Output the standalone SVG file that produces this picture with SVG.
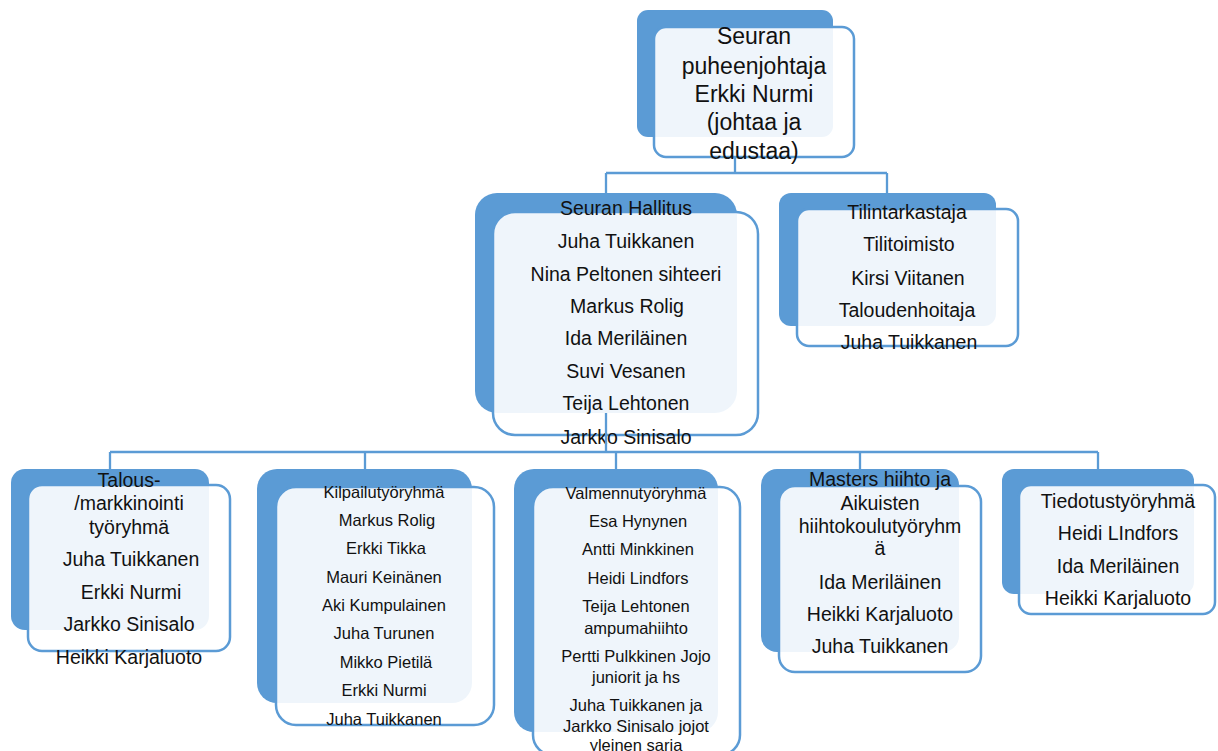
<svg xmlns="http://www.w3.org/2000/svg" width="1218" height="751" viewBox="0 0 1218 751">
<style>
.bk{fill:#5B9BD5;}
.fr{fill:#ffffff;fill-opacity:0.9;stroke:#5B9BD5;stroke-width:2.5;}
.cn{fill:none;stroke:#5B9BD5;stroke-width:2.3;}
text{font-family:"Liberation Sans",Arial,sans-serif;fill:#111;text-anchor:middle;}
.t23{font-size:23px;}
.t19{font-size:19.5px;}
.t16{font-size:16.5px;}
</style>
<rect width="1218" height="751" fill="#ffffff"/>
<g id="n-puheenjohtaja">
<rect class="bk" x="637" y="10" width="196" height="127" rx="11"/>
<rect class="fr" x="654" y="27" width="200" height="130" rx="12"/>
<text class="t23" x="754" y="44">Seuran</text>
<text class="t23" x="754" y="74">puheenjohtaja</text>
<text class="t23" x="754" y="102">Erkki Nurmi</text>
<text class="t23" x="754" y="130">(johtaa ja</text>
<text class="t23" x="754" y="159">edustaa)</text>
</g>
<g id="n-hallitus">
<rect class="bk" x="475" y="193" width="262" height="220" rx="22"/>
<rect class="fr" x="493" y="212" width="265" height="223" rx="22"/>
<text class="t19" x="626" y="215">Seuran Hallitus</text>
<text class="t19" x="626" y="248">Juha Tuikkanen</text>
<text class="t19" x="626" y="281">Nina Peltonen sihteeri</text>
<text class="t19" x="627" y="313">Markus Rolig</text>
<text class="t19" x="626" y="345">Ida Meriläinen</text>
<text class="t19" x="626" y="378">Suvi Vesanen</text>
<text class="t19" x="626" y="410">Teija Lehtonen</text>
<text class="t19" x="626" y="444">Jarkko Sinisalo</text>
</g>
<g id="n-tilintarkastaja">
<rect class="bk" x="779" y="193" width="217" height="133" rx="12"/>
<rect class="fr" x="797" y="209" width="221" height="137" rx="12"/>
<text class="t19" x="907" y="219">Tilintarkastaja</text>
<text class="t19" x="909" y="251">Tilitoimisto</text>
<text class="t19" x="908" y="285">Kirsi Viitanen</text>
<text class="t19" x="907" y="317">Taloudenhoitaja</text>
<text class="t19" x="909" y="349">Juha Tuikkanen</text>
</g>
<g id="n-talous">
<rect class="bk" x="11" y="469" width="198" height="161" rx="14"/>
<rect class="fr" x="28" y="485" width="202" height="166" rx="14"/>
<text class="t19" x="129" y="487">Talous-</text>
<text class="t19" x="129" y="510">/markkinointi</text>
<text class="t19" x="129" y="534">työryhmä</text>
<text class="t19" x="131" y="566">Juha Tuikkanen</text>
<text class="t19" x="131" y="599">Erkki Nurmi</text>
<text class="t19" x="129" y="631">Jarkko Sinisalo</text>
<text class="t19" x="129" y="664">Heikki Karjaluoto</text>
</g>
<g id="n-kilpailu">
<rect class="bk" x="257" y="469" width="215" height="234" rx="20"/>
<rect class="fr" x="276" y="487" width="218" height="238" rx="20"/>
<text class="t16" x="384" y="498">Kilpailutyöryhmä</text>
<text class="t16" x="387" y="526">Markus Rolig</text>
<text class="t16" x="386" y="554">Erkki Tikka</text>
<text class="t16" x="384" y="583">Mauri Keinänen</text>
<text class="t16" x="384" y="611">Aki Kumpulainen</text>
<text class="t16" x="384" y="639">Juha Turunen</text>
<text class="t16" x="386" y="668">Mikko Pietilä</text>
<text class="t16" x="384" y="696">Erkki Nurmi</text>
<text class="t16" x="384" y="725">Juha Tuikkanen</text>
</g>
<g id="n-valmennus">
<rect class="bk" x="514" y="469" width="204" height="263" rx="20"/>
<rect class="fr" x="533" y="487" width="207" height="268" rx="20"/>
<text class="t16" x="636" y="499">Valmennutyöryhmä</text>
<text class="t16" x="638" y="527">Esa Hynynen</text>
<text class="t16" x="638" y="555">Antti Minkkinen</text>
<text class="t16" x="638" y="584">Heidi Lindfors</text>
<text class="t16" x="636" y="612">Teija Lehtonen</text>
<text class="t16" x="636" y="634">ampumahiihto</text>
<text class="t16" x="636" y="662">Pertti Pulkkinen Jojo</text>
<text class="t16" x="636" y="683">juniorit ja hs</text>
<text class="t16" x="636" y="711">Juha Tuikkanen ja</text>
<text class="t16" x="636" y="732">Jarkko Sinisalo jojot</text>
<text class="t16" x="636" y="751">yleinen sarja</text>
</g>
<g id="n-masters">
<rect class="bk" x="761" y="469" width="198" height="183" rx="16"/>
<rect class="fr" x="779" y="486" width="202" height="186" rx="16"/>
<text class="t19" x="880" y="486">Masters hiihto ja</text>
<text class="t19" x="880" y="510">Aikuisten</text>
<text class="t19" x="880" y="533">hiihtokoulutyöryhm</text>
<text class="t19" x="880" y="555">ä</text>
<text class="t19" x="880" y="589">Ida Meriläinen</text>
<text class="t19" x="880" y="621">Heikki Karjaluoto</text>
<text class="t19" x="880" y="653">Juha Tuikkanen</text>
</g>
<g id="n-tiedotus">
<rect class="bk" x="1002" y="469" width="192" height="125" rx="12"/>
<rect class="fr" x="1019" y="485" width="196" height="129" rx="12"/>
<text class="t19" x="1118" y="508">Tiedotustyöryhmä</text>
<text class="t19" x="1118" y="540">Heidi LIndfors</text>
<text class="t19" x="1118" y="573">Ida Meriläinen</text>
<text class="t19" x="1118" y="605">Heikki Karjaluoto</text>
</g>
<g id="connectors">
<path class="cn" d="M735,157 V173 M606,173 H887 M606,173 V193 M887,173 V193"/>
<path class="cn" d="M606,413 V452 M110,452 H1098 M110,452 V469 M365,452 V469 M616,452 V469 M860,452 V469 M1098,452 V469"/>
</g>
</svg>
